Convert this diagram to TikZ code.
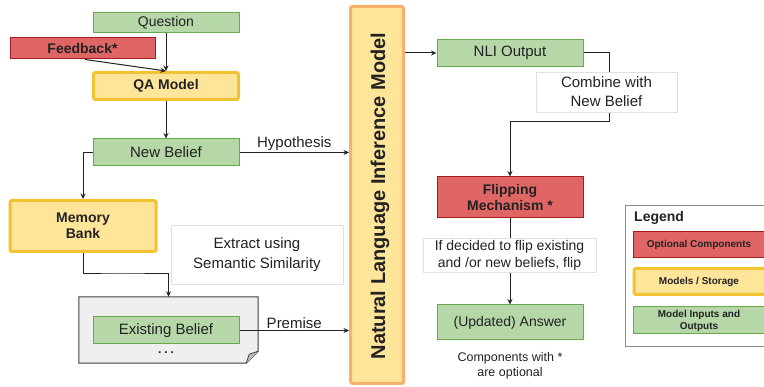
\documentclass[tikz,border=0pt]{standalone}
\usepackage{fontspec}
\setmainfont{Liberation Sans}
\usetikzlibrary{arrows.meta,calc}
\definecolor{gfill}{HTML}{B6D7A8}
\definecolor{gline}{HTML}{6AA84F}
\definecolor{rfill}{HTML}{E06666}
\definecolor{rline}{HTML}{A61C1C}
\definecolor{yfill}{HTML}{FFE599}
\definecolor{yline}{HTML}{F1C232}
\definecolor{oline}{HTML}{F6B26B}
\definecolor{docfill}{HTML}{EFEFEF}
\definecolor{ink}{HTML}{222222}
\newcommand\myfs[2]{\fontsize{#1}{#2}\selectfont}
\tikzset{
  base/.style={inner sep=0pt, align=center, text=ink},
  gbox/.style={base, draw=gline, fill=gfill, line width=1pt},
  rbox/.style={base, draw=rline, fill=rfill, line width=1pt},
  ybox/.style={base, draw=yline, fill=yfill, line width=3pt, rounded corners=2pt},
  lbl/.style={base, draw=black!12, fill=white, line width=0.8pt},
  plain/.style={base},
  arr/.style={draw=ink, line width=1pt, -{Stealth[length=5.5pt,width=5pt]}},
  txt/.style={font=\myfs{15}{19}},
  btxt/.style={font=\bfseries\myfs{14}{16}}
}
\begin{document}
\begin{tikzpicture}[x=1pt,y=-1pt]
\useasboundingbox (0,0) rectangle (764,387);
\clip (0,0) rectangle (764,387);
\fill[white] (0,0) rectangle (764,387);

% left column
\node[gbox, font=\myfs{14}{16}, minimum width=146, minimum height=20] (q) at (166,23) {Question};
\node[rbox, btxt, minimum width=145, minimum height=21] (fb) at (82.5,48.5) {Feedback*};
\node[ybox, btxt, minimum width=145, minimum height=27] (qa) at (166,86) {QA Model};
\node[gbox, txt, minimum width=146, minimum height=27] (nb) at (166,152.5) {New Belief};
\node[ybox, btxt, minimum width=146, minimum height=51] (mb) at (83,226) {Memory\\Bank};
\node[lbl, txt, font=\myfs{15}{20}, minimum width=172, minimum height=59] (ext) at (257,254.5) {Extract using\\Semantic Similarity};

% document shape
\node[base, minimum width=179, minimum height=66] (doc) at (168.5,330) {};
\draw[draw=black!75, fill=docfill, line width=1pt]
  (doc.north west) -- (doc.north east) -- ($(doc.south east)+(0,-12)$)
  -- ($(doc.south east)+(-12,0)$) -- (doc.south west) -- cycle;
\draw[draw=black!75, fill=black!25, line width=0.8pt, line join=round]
  ($(doc.south east)+(-12,0)$) -- ($(doc.south east)+(-9,-9)$) -- ($(doc.south east)+(0,-12)$);
\node[gbox, txt, minimum width=146, minimum height=27] (eb) at (166,330.5) {Existing Belief};
\node[plain, font=\bfseries\myfs{12}{14}] (dots) at (166,353) {.\hspace{3pt}.\hspace{3pt}.};

% NLI model
\node[base, draw=oline, fill=yfill, line width=3pt, rounded corners=2pt, minimum width=53, minimum height=377] (nli) at (377,195) {};
\node[plain, rotate=90, font=\bfseries\myfs{20}{22}] (nlit) at (380,196) {Natural Language Inference Model};

% right column
\node[gbox, txt, minimum width=146, minimum height=27] (nlio) at (510,53) {NLI Output};
\node[rbox, btxt, minimum width=146, minimum height=41] (flip) at (510,197.5) {Flipping\\Mechanism *};
\node[gbox, font=\myfs{14}{16}, minimum width=146, minimum height=35] (ans) at (510,322.5) {(Updated) Answer};
\node[plain, font=\myfs{12.5}{15}] (comp) at (510,366) {Components with *\\are optional};

% connectors
\draw[arr] (q.south) -- (qa.north);
\draw[arr] ($(fb.south)+(2.5,0)$) -- (qa.north);
\draw[arr] (qa.south) -- (nb.north);
\draw[arr] (nb.east) -- node[plain, txt, above=1pt] (hyp) {Hypothesis} (nli.west |- nb.east);
\draw[arr] (nb.west) -| (mb.north);
\coordinate (mbturn) at (120,274);
\draw[arr] (mb.south) |- (mbturn) -| (doc.north);
\draw[arr] (eb.east) -- node[plain, txt, above=1pt] (prem) {Premise} (nli.west |- eb.east);
\draw[arr] (nli.east |- nlio.west) -- (nlio.west);
\coordinate (cturn) at (609,122);
\draw[arr] (nlio.east) -| (cturn) -| (flip.north);
\draw[arr] (flip.south) -- (ans.north);
\node[lbl, txt, minimum width=141, minimum height=40] (comb) at (606.5,92) {Combine with\\New Belief};
\node[lbl, font=\myfs{14}{17}, minimum width=173, minimum height=34] (ifd) at (509.5,255) {If decided to flip existing\\and /or new beliefs, flip};

% legend
\node[base, draw=black!45, line width=1pt, fill=white, minimum width=143, minimum height=141] (leg) at (696.5,276.5) {};
\node[plain, anchor=west, font=\bfseries\myfs{14}{16}] (legt) at (634,218) {Legend};
\node[rbox, font=\bfseries\myfs{10}{12}, minimum width=140, minimum height=26] (l1) at (703,245) {};
\node[plain, font=\bfseries\myfs{10}{12}] at (699,245) {Optional Components};
\node[ybox, minimum width=140, minimum height=26] (l2) at (704,281.5) {};
\node[plain, font=\bfseries\myfs{10}{12}] at (699,281.5) {Models / Storage};
\node[gbox, minimum width=140, minimum height=27] (l3) at (703,320.5) {};
\node[plain, font=\bfseries\myfs{10}{12}] at (699,320.5) {Model Inputs and\\Outputs};
\end{tikzpicture}
\end{document}
